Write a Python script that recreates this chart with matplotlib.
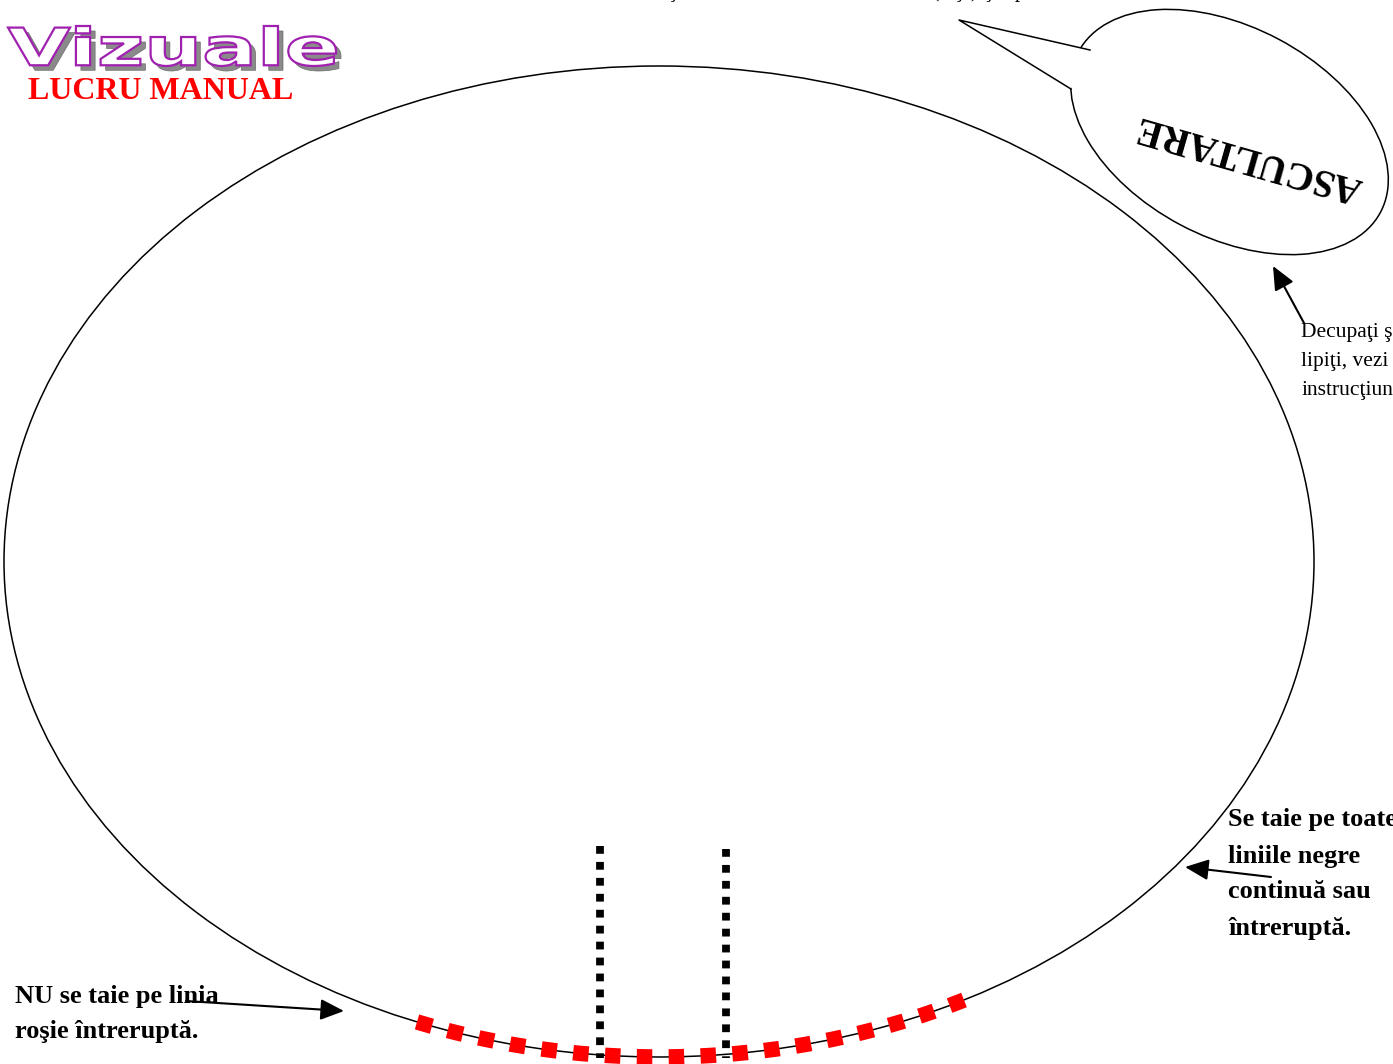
import matplotlib
matplotlib.use("Agg")
from matplotlib import pyplot as plt
from matplotlib.patches import Ellipse, Polygon, PathPatch
from matplotlib.textpath import TextPath
from matplotlib.font_manager import FontProperties
from matplotlib.transforms import Affine2D
import numpy as np

W, H = 1393, 1064
SERIF = ["Liberation Serif", "DejaVu Serif"]

# contur principal (elipsa mare)
ear_center = (659, 561.5)
ear_width, ear_height = 1310, 991

# balonul "ASCULTARE"
bubble_center = (1229.5, 132)
bubble_w, bubble_h, bubble_angle = 342, 210, 28
tail_pts = [(1090, 50), (959, 20), (1071, 89)]

# linia rosie (nu se taie) - capetele pe x si numarul de bucati
red_x = (417, 964)
red_count = 18
red_size = 15.5  # px
# liniile negre punctate
dot_lines = [(600, 846, 1058), (726, 849, 1058)]

fig = plt.figure(figsize=(W / 100, H / 100), dpi=100)
ax = fig.add_axes([0, 0, 1, 1])
ax.set_xlim(0, W)
ax.set_ylim(H, 0)
ax.axis("off")

# elipsa mare
ax.add_patch(Ellipse(ear_center, ear_width, ear_height, fill=False,
                     edgecolor="black", lw=1.1, zorder=2))

# punctate negre
for x, y0, y1 in dot_lines:
    ax.plot([x, x], [y0, y1], color="black", lw=5.6, dashes=(1.0, 1.05),
            dash_capstyle="butt", zorder=3)

# linia rosie intrerupta pe arc
a, b = ear_width / 2, ear_height / 2
t0 = np.arccos((red_x[0] - ear_center[0]) / a)
t1 = np.arccos((red_x[1] - ear_center[0]) / a)
t = np.linspace(t0, t1, 600)
rx = ear_center[0] + a * np.cos(t)
ry = ear_center[1] + b * np.sin(t)
arc_len = np.sum(np.hypot(np.diff(rx), np.diff(ry)))
gap = (arc_len - red_count * red_size) / (red_count - 1)
lw_pt = red_size * 0.72
ax.plot(rx, ry, color="red", lw=lw_pt, dashes=(1.0, gap / red_size),
        dash_capstyle="butt", zorder=4)

# balon
ax.add_patch(Ellipse(bubble_center, bubble_w, bubble_h, angle=bubble_angle,
                     facecolor="white", edgecolor="black", lw=1.1, zorder=5))
ax.add_patch(Polygon(tail_pts, closed=True, facecolor="white", edgecolor="none", zorder=6))
ax.plot([p[0] for p in tail_pts], [p[1] for p in tail_pts], color="black", lw=1.1, zorder=7)
ax.text(1249, 157, "ASCULTARE", rotation=164, rotation_mode="anchor",
        ha="center", va="center", fontsize=28, fontweight="bold", family=SERIF, zorder=8)

# logo Vizuale
tp = TextPath((0, 0), "Vizuale", size=1, prop=FontProperties(family="DejaVu Sans", weight="bold"))
bb = tp.get_extents()
sx = (336 - 8) / bb.width
sy = (66 - 26) / bb.height
base = Affine2D().translate(-bb.x0, -bb.y0).scale(sx, -sy)
shadow = base + Affine2D().translate(8 + 5, 66 + 5)
front = base + Affine2D().translate(8, 66)
ax.add_patch(PathPatch(shadow.transform_path(tp), facecolor="#8a8a8a", edgecolor="#6a6a6a",
                       lw=0.5, zorder=9))
ax.add_patch(PathPatch(front.transform_path(tp), facecolor="white", edgecolor="#a020b0",
                       lw=1.6, zorder=10))

ax.text(28, 99, "LUCRU MANUAL", color="red", fontsize=23, fontweight="bold",
        family=SERIF, va="baseline", ha="left", zorder=10)

# textul taiat de sus
ax.text(585, -3, "DECUPAŢI URECHILE DIN CARTON (faţa) ŞI spatele", fontsize=15,
        family=SERIF, va="baseline", ha="left", zorder=10)

# Decupati si lipiti
for y, s in zip([337, 366, 395], ["Decupaţi şi", "lipiţi, vezi", "instrucţiunile"]):
    ax.text(1301, y, s, fontsize=15.5, family=SERIF, va="baseline", ha="left", zorder=10)
ax.annotate("", xy=(1273, 266), xytext=(1304, 323),
            arrowprops=dict(arrowstyle="-|>,head_length=0.9,head_width=0.4",
                            color="black", lw=1.5, mutation_scale=16, shrinkA=0, shrinkB=0))

# Se taie pe toate...
for y, s in zip([826, 862.5, 898.5, 935], ["Se taie pe toate", "liniile negre",
                                            "continuă sau", "întreruptă."]):
    ax.text(1228, y, s, fontsize=19, fontweight="bold", family=SERIF,
            va="baseline", ha="left", zorder=10)
ax.annotate("", xy=(1185, 867), xytext=(1271, 877),
            arrowprops=dict(arrowstyle="-|>,head_length=0.9,head_width=0.4",
                            color="black", lw=1.5, mutation_scale=16, shrinkA=0, shrinkB=0))

# NU se taie...
for y, s in zip([1003, 1038], ["NU se taie pe linia", "roşie întreruptă."]):
    ax.text(15, y, s, fontsize=19, fontweight="bold", family=SERIF,
            va="baseline", ha="left", zorder=10)
ax.annotate("", xy=(344, 1011), xytext=(186, 1001),
            arrowprops=dict(arrowstyle="-|>,head_length=0.9,head_width=0.4",
                            color="black", lw=1.5, mutation_scale=16, shrinkA=0, shrinkB=0),
            zorder=11)

fig.savefig("out.png", dpi=100, facecolor="white")
